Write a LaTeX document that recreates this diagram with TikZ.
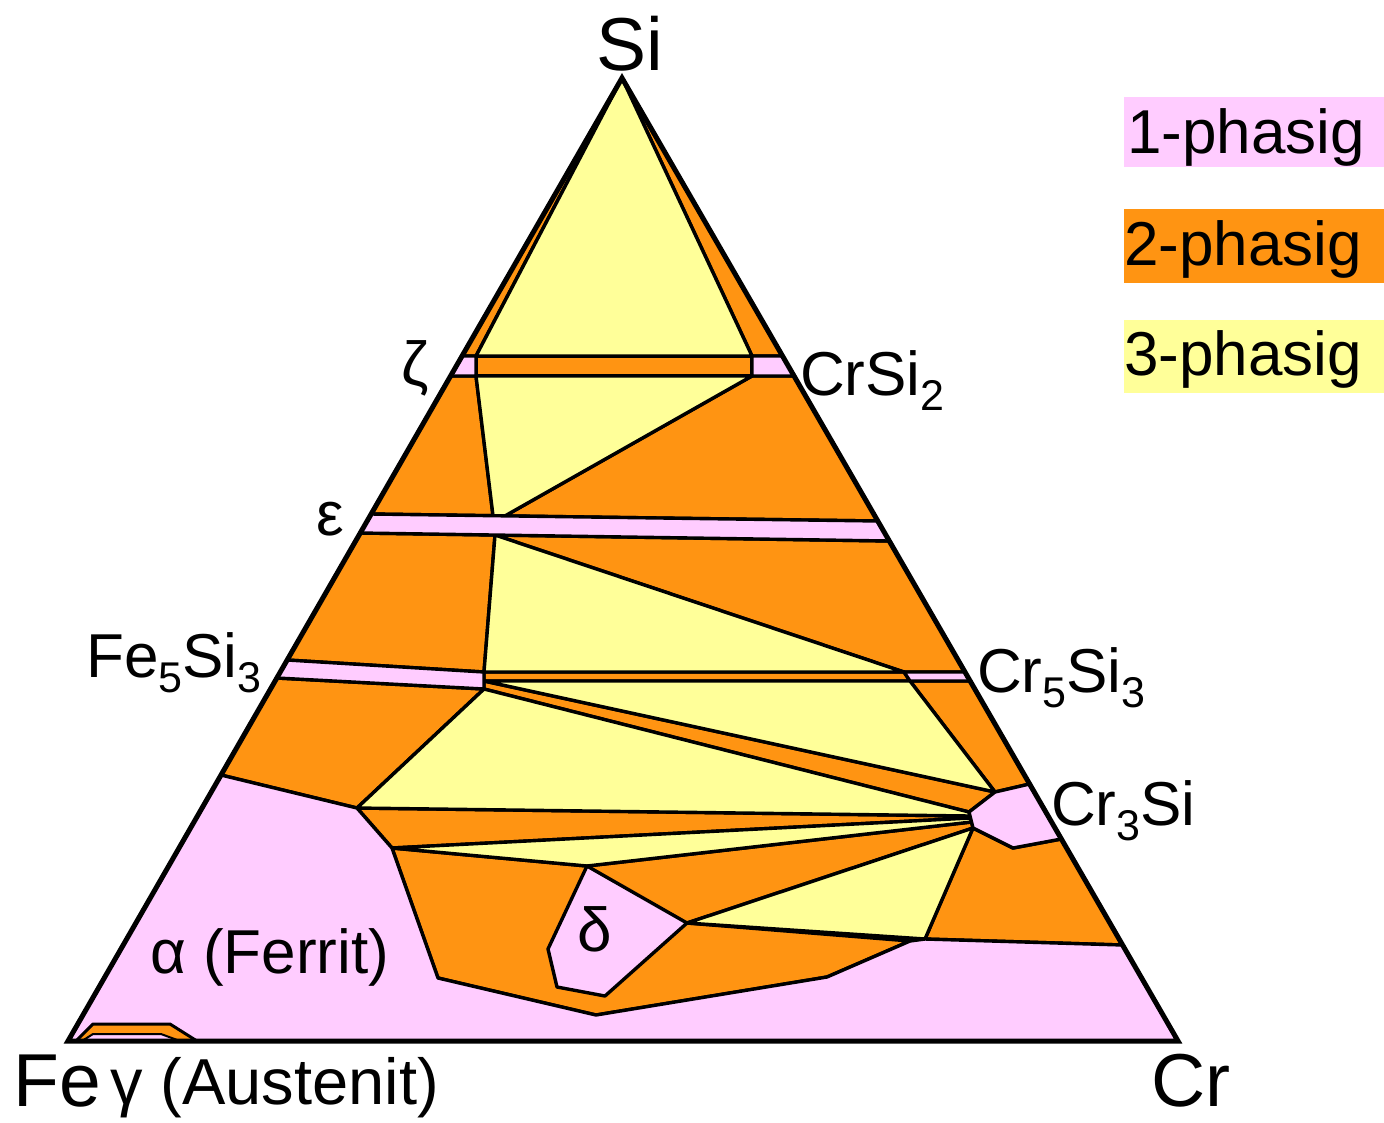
\documentclass[tikz,border=0pt]{standalone}
\usepackage{fontspec}
\setmainfont{Liberation Sans}
\definecolor{pk}{HTML}{FFCCFF}
\definecolor{og}{HTML}{FF9412}
\definecolor{yl}{HTML}{FFFF99}
\newcommand{\csub}[1]{\raisebox{-15pt}{\fontsize{43}{43}\selectfont #1}}
\begin{document}
\begin{tikzpicture}[x=1pt,y=-1pt,
  ph/.style={draw=black,line width=3.4pt,line join=round},
  one/.style={ph,fill=pk},
  two/.style={ph,fill=og},
  three/.style={ph,fill=yl},
  lab/.style={inner sep=0pt,font=\fontsize{62}{64}\selectfont},
  big/.style={inner sep=0pt,font=\fontsize{75}{77}\selectfont}]
\useasboundingbox (0,0) rectangle (1384,1122);
% corners
\coordinate (S) at (622,78);
\coordinate (F) at (68,1041);
\coordinate (C) at (1178,1041);
% top
\coordinate (Y1) at (476,356);
\coordinate (Y2) at (752,356);
\coordinate (Y1b) at (476,376);
\coordinate (Y2b) at (752,376);
\coordinate (Zl1) at (462.1,356);
\coordinate (Zl2) at (450.6,376);
\coordinate (Cr2a) at (782.5,356);
\coordinate (Cr2b) at (794.1,376);
% epsilon
\coordinate (P1) at (493,515.7);
\coordinate (P2) at (505,515.9);
\coordinate (E1) at (371.2,514);
\coordinate (E2) at (877.8,521);
\coordinate (E3) at (360.2,533);
\coordinate (E4) at (889.3,541);
\coordinate (P3) at (495,535);
% Fe5Si3 / Cr5Si3
\coordinate (Fa) at (287.2,660);
\coordinate (Fb) at (276.8,678);
\coordinate (Q1) at (484,672);
\coordinate (Q2) at (484,681);
\coordinate (Q3) at (484,689);
\coordinate (Ca) at (904,672);
\coordinate (Cb) at (965,672);
\coordinate (Cc) at (970.2,681);
\coordinate (Cd) at (910,681);
% lower
\coordinate (Al) at (221,775);
\coordinate (M) at (357,808);
\coordinate (N) at (392,848);
\coordinate (K1) at (995,792);
\coordinate (K2) at (1029.6,784);
\coordinate (K3) at (1061.4,839);
\coordinate (K4) at (1013,848);
\coordinate (K5) at (973,828);
\coordinate (K6) at (969,812);
\coordinate (Cc1) at (970,816);
\coordinate (Cd1) at (970.5,818);
\coordinate (Ce1) at (971.5,822);
\coordinate (T) at (587,866);
\coordinate (R) at (687,923);
\coordinate (B1) at (605,996);
\coordinate (B2) at (557,987);
\coordinate (L1) at (548,949);
\coordinate (G1) at (925,939);
\coordinate (Re) at (1122.6,945);
\coordinate (W1) at (438,978);
\coordinate (W2) at (596,1015);
\coordinate (W3) at (827,977);
\coordinate (W4) at (910,941);
% gamma
\coordinate (O1) at (76,1041);
\coordinate (O2) at (93,1024);
\coordinate (O3) at (170,1024);
\coordinate (O4) at (197,1041);
\coordinate (I1) at (82,1041);
\coordinate (I2) at (93,1034);
\coordinate (I3) at (161,1034);
\coordinate (I4) at (180,1041);

\fill[og] (S) -- (F) -- (C) -- cycle;
% two-phase regions
\draw[two] (S) -- (Zl1) -- (Y1) -- cycle;
\draw[two] (S) -- (Y2) -- (Cr2a) -- cycle;
\draw[two] (Y1) -- (Y2) -- (Y2b) -- (Y1b) -- cycle;
\draw[two] (Zl2) -- (Y1b) -- (P1) -- (E1) -- cycle;
\draw[two] (Y2b) -- (Cr2b) -- (E2) -- (P2) -- cycle;
\draw[two] (E3) -- (P3) -- (Q1) -- (Fa) -- cycle;
\draw[two] (P3) -- (E4) -- (Cb) -- (Ca) -- cycle;
\draw[two] (Q1) -- (Ca) -- (Cd) -- (Q2) -- cycle;
\draw[two] (Cd) -- (Cc) -- (K2) -- (K1) -- cycle;
\draw[two] (Q2) -- (K1) -- (K6) -- (Q3) -- cycle;
\draw[two] (Fb) -- (Q3) -- (M) -- (Al) -- cycle;
\draw[two] (M) -- (Cc1) -- (Cd1) -- (N) -- cycle;
\draw[two] (N) -- (T) -- (Ce1) -- (K5) -- (R) -- (W4) -- (W3) -- (W2) -- (W1) -- cycle;
\draw[two] (K5) -- (K4) -- (K3) -- (Re) -- (G1) -- cycle;
% three-phase regions
\draw[three] (S) -- (Y1) -- (Y2) -- cycle;
\draw[three] (Y1b) -- (Y2b) -- (P2) -- (P1) -- cycle;
\draw[three] (P3) -- (Ca) -- (Q1) -- cycle;
\draw[three] (Q2) -- (Cd) -- (K1) -- cycle;
\draw[three] (Q3) -- (K6) -- (Cc1) -- (M) -- cycle;
\draw[three] (N) -- (Cd1) -- (Ce1) -- (T) -- cycle;
\draw[three] (R) -- (K5) -- (G1) -- cycle;
% one-phase regions
\draw[one] (Zl1) -- (Y1) -- (Y1b) -- (Zl2) -- cycle;
\draw[one] (Y2) -- (Cr2a) -- (Cr2b) -- (Y2b) -- cycle;
\draw[one] (E1) -- (E2) -- (E4) -- (E3) -- cycle;
\draw[one] (Fa) -- (Q1) -- (Q3) -- (Fb) -- cycle;
\draw[one] (Ca) -- (Cb) -- (Cc) -- (Cd) -- cycle;
\draw[one] (K6) -- (K1) -- (K2) -- (K3) -- (K4) -- (K5) -- cycle;
\draw[one] (T) -- (R) -- (B1) -- (B2) -- (L1) -- cycle;
\draw[one] (Al) -- (M) -- (N) -- (W1) -- (W2) -- (W3) -- (W4) -- (G1) -- (Re) -- (C) -- (F) -- cycle;
% gamma
\draw[two,line width=3pt] (O1) -- (O2) -- (O3) -- (O4) -- cycle;
\draw[one,line width=2pt] (I1) -- (I2) -- (I3) -- (I4) -- cycle;
% outline
\draw[line width=5pt,line join=miter] (S) -- (F) -- (C) -- cycle;

% labels
\node[big,anchor=base] (si) at (630,70) {Si};
\node[big,anchor=base west] (fe) at (13,1106) {Fe};
\node[big,anchor=base west] (cr) at (1151,1106) {Cr};
\node[lab,anchor=base west,font=\fontsize{65}{67}\selectfont] (gam) at (110,1104) {γ (Austenit)};
\node[lab,anchor=base west] (alp) at (150,973) {α (Ferrit)};
\node[lab,anchor=base] (del) at (595,951) {δ};
\node[lab,anchor=base] (zet) at (415,385) {ζ};
\node[lab,anchor=base] (eps) at (330,535) {ε};
\node[lab,anchor=base west] (fesi) at (86,677) {Fe\csub{5}Si\csub{3}};
\node[lab,anchor=base west] (crsi2) at (800,395) {CrSi\csub{2}};
\node[lab,anchor=base west] (cr5) at (977,692) {Cr\csub{5}Si\csub{3}};
\node[lab,anchor=base west] (cr3) at (1051,825) {Cr\csub{3}Si};

% legend
\fill[pk] (1124,97) rectangle (1384,167);
\fill[og] (1124,209) rectangle (1384,283);
\fill[yl] (1124,320) rectangle (1384,393);
\node[lab,anchor=base west] (l1) at (1127,153) {1-phasig};
\node[lab,anchor=base west] (l2) at (1124,265) {2-phasig};
\node[lab,anchor=base west] (l3) at (1124,375) {3-phasig};
\end{tikzpicture}
\end{document}
